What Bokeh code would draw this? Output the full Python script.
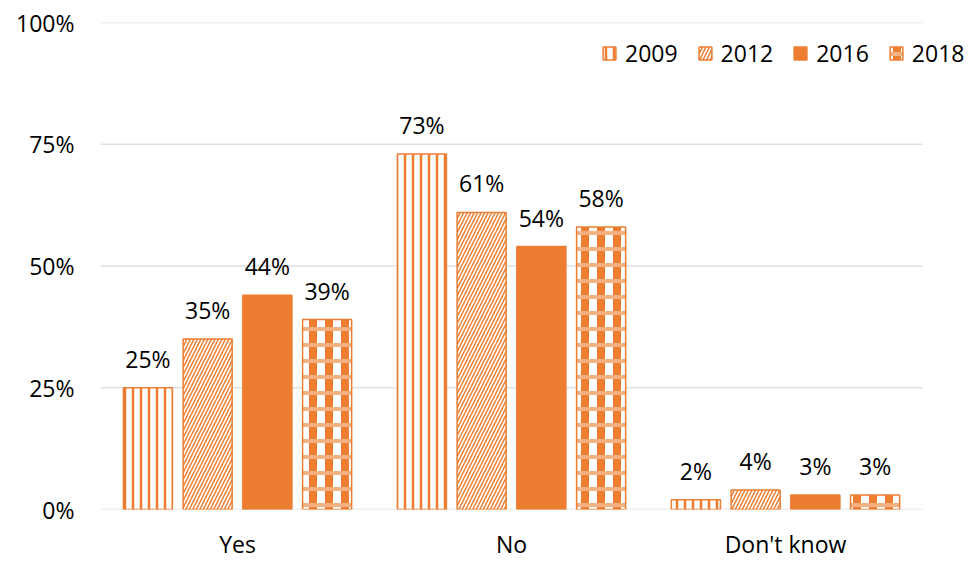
from bokeh.plotting import figure
from bokeh.models import (ColumnDataSource, Range1d, FixedTicker,
                          Legend, LegendItem)
from bokeh.core.properties import value
from bokeh.embed import file_html
from bokeh.resources import INLINE

categories = ["Yes", "No", "Don't know"]
years = ["2009", "2012", "2016", "2018"]
v2009 = [25, 73, 2]
v2012 = [35, 61, 4]
v2016 = [44, 54, 3]
v2018 = [39, 58, 3]
y_ticks = [0, 25, 50, 75, 100]
y_tick_labels = ["0%", "25%", "50%", "75%", "100%"]

ORANGE = "#ED7D31"
FONT = "Open Sans"

# category centres in axis units (one unit per category)
centers = [i + 0.5 for i in range(len(categories))]

p = figure(x_range=Range1d(0, 880 / 274), y_range=Range1d(0, 100),
           width=980, height=562, output_backend="svg", toolbar_location=None,
           min_border_left=100, min_border_right=0, min_border_top=22,
           min_border_bottom=52)
p.outline_line_color = None
p.background_fill_color = "white"

# gridlines spanning the categories only
p.segment(x0=[0] * len(y_ticks), x1=[len(categories)] * len(y_ticks),
          y0=y_ticks, y1=y_ticks, line_color="#DDE1E6", line_width=1.5)

offsets = [-0.327, -0.109, 0.109, 0.327]
W = 0.179
styles = [
    [dict(fill_color="white", hatch_pattern="vertical_line", hatch_color=ORANGE,
          hatch_scale=8, hatch_weight=2.5)],
    [dict(fill_color="white", hatch_pattern="right_diagonal_line", hatch_color=ORANGE,
          hatch_scale=7, hatch_weight=1.5)],
    [dict(fill_color=ORANGE)],
    [dict(fill_color="white", hatch_pattern="vertical_line", hatch_color=ORANGE,
          hatch_scale=16, hatch_weight=8),
     dict(fill_alpha=0, hatch_pattern="horizontal_line", hatch_color="#F4B183",
          hatch_scale=16, hatch_weight=4)],
]
values = {"2009": v2009, "2012": v2012, "2016": v2016, "2018": v2018}
items = []
for yr, off, sts in zip(years, offsets, styles):
    src = ColumnDataSource(data=dict(
        x=[c + off for c in centers], top=values[yr],
        label=[f"{v}%" for v in values[yr]]))
    rs = []
    for k, st in enumerate(sts):
        last = k == len(sts) - 1
        rs.append(p.vbar(x="x", top="top", width=W, source=src,
                         line_color=ORANGE if last else None,
                         line_width=1.5, **st))
    items.append(LegendItem(label=yr, renderers=rs))
    p.text(x="x", y="top", text="label", source=src,
           text_align="center", text_baseline="alphabetic",
           y_offset=-29, text_font=value(FONT), text_font_size="23px",
           text_color="black")

legend = Legend(items=items, orientation="horizontal", location=(501, 440),
                glyph_width=16, glyph_height=16, label_height=16,
                label_standoff=8, spacing=19, padding=0, margin=0,
                border_line_color=None, background_fill_alpha=0,
                label_text_font=FONT, label_text_font_size="23px",
                label_text_color="black", label_text_baseline="middle")
p.add_layout(legend, "center")

p.xgrid.grid_line_color = None
p.ygrid.grid_line_color = None
p.xaxis.ticker = FixedTicker(ticks=centers)
p.xaxis.major_label_overrides = {c: n for c, n in zip(centers, categories)}
p.yaxis.ticker = FixedTicker(ticks=y_ticks)
p.yaxis.major_label_overrides = {t: l for t, l in zip(y_ticks, y_tick_labels)}
for ax in (p.xaxis, p.yaxis):
    ax.axis_line_color = None
    ax.major_tick_line_color = None
    ax.minor_tick_line_color = None
    ax.major_label_text_font = FONT
    ax.major_label_text_font_size = "23px"
    ax.major_label_text_color = "black"
p.yaxis.major_label_standoff = 20
p.xaxis.major_label_standoff = 12

open("out.html", "w").write(file_html(p, INLINE))
